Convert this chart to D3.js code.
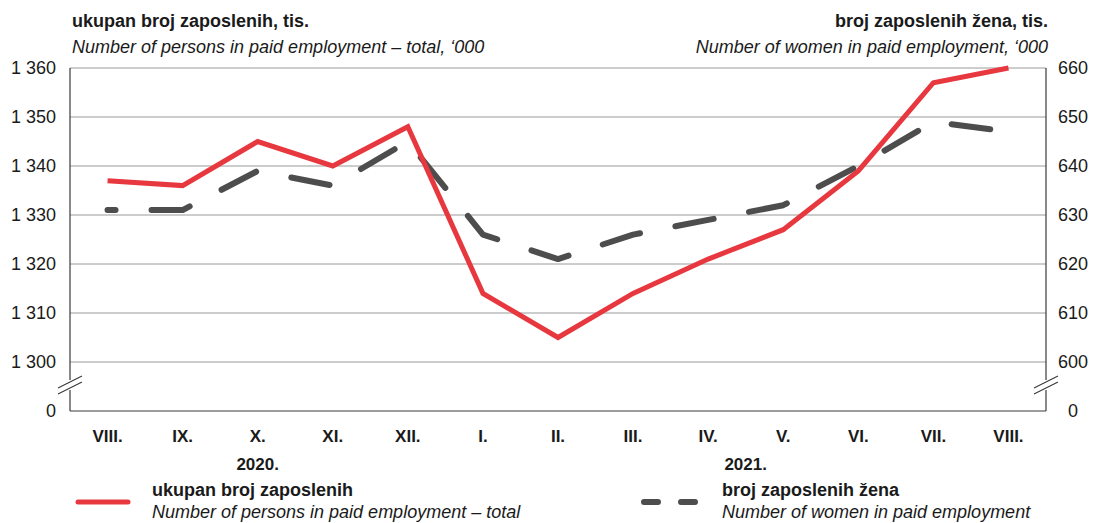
<!DOCTYPE html>
<html>
<head>
<meta charset="utf-8">
<script src="https://cdn.jsdelivr.net/npm/d3@7"></script>
<style>
  body { margin: 0; background: #fff; }
  text { font-family: "Liberation Sans", Arial, sans-serif; fill: #1a1a1a; }
</style>
</head>
<body>
<svg id="chart" width="1094" height="523"></svg>
<script>
// months on x axis
const months = ["VIII.", "IX.", "X.", "XI.", "XII.", "I.", "II.", "III.", "IV.", "V.", "VI.", "VII.", "VIII."];
// total persons in paid employment, '000 (left axis)
const totalEmp = [1337, 1336, 1345, 1340, 1348, 1314, 1305, 1314, 1321, 1327, 1339, 1357, 1360];
// women in paid employment, '000 (right axis)
const womenEmp = [631, 631, 639, 636, 645, 626, 621, 626, 629, 632, 640, 649, 647];
const leftTicks = [1300, 1310, 1320, 1330, 1340, 1350, 1360];
const rightTicks = [600, 610, 620, 630, 640, 650, 660];
const years = [{label: "2020.", at: 2}, {label: "2021.", at: 8.5}];

var svg = d3.select("#chart");
var mLeft = 70, mRight = 1046, mTop = 68, mBottom = 362, base = 411;

let x = d3.scalePoint().domain(d3.range(months.length)).range([mLeft, mRight]).padding(0.5);
let yL = d3.scaleLinear().domain([1300, 1360]).range([mBottom, mTop]);
let yR = d3.scaleLinear().domain([600, 660]).range([mBottom, mTop]);
let step = x.step();

// gridlines
svg.append("g").selectAll("line")
    .data(leftTicks)
    .enter()
    .append("line")
    .attr("x1", mLeft).attr("x2", mRight)
    .attr("y1", d => yL(d)).attr("y2", d => yL(d))
    .attr("stroke", "#9a9a9a").attr("stroke-width", 1);

// frame: left, right axis + baseline
var frame = svg.append("g").attr("stroke", "#3a3a3a").attr("stroke-width", 1.2).attr("fill", "none");
frame.append("line").attr("x1", mLeft).attr("x2", mLeft).attr("y1", mTop).attr("y2", 380);
frame.append("line").attr("x1", mLeft).attr("x2", mLeft).attr("y1", 390).attr("y2", base);
frame.append("line").attr("x1", mRight).attr("x2", mRight).attr("y1", mTop).attr("y2", 380);
frame.append("line").attr("x1", mRight).attr("x2", mRight).attr("y1", 390).attr("y2", base);
frame.append("line").attr("x1", mLeft).attr("x2", mRight).attr("y1", base).attr("y2", base);
// break marks
[mLeft, mRight].forEach(function(bx){
    [-3, 3].forEach(function(o){
        frame.append("line")
            .attr("x1", bx - 12).attr("y1", 391 + o)
            .attr("x2", bx + 12).attr("y2", 379 + o);
    });
});

// left axis labels
svg.append("g").selectAll("text")
    .data(leftTicks)
    .enter()
    .append("text")
    .attr("x", mLeft - 14).attr("y", d => yL(d) + 6)
    .attr("text-anchor", "end").attr("font-size", 18)
    .text(d => d3.format(",")(d).replace(",", " "));
svg.append("text").attr("x", mLeft - 14).attr("y", base + 6)
    .attr("text-anchor", "end").attr("font-size", 18).text("0");

// right axis labels
svg.append("g").selectAll("text")
    .data(rightTicks)
    .enter()
    .append("text")
    .attr("x", mRight + 12).attr("y", d => yR(d) + 6)
    .attr("font-size", 18)
    .text(d => d);
svg.append("text").attr("x", mRight + 22).attr("y", base + 6)
    .attr("font-size", 18).text("0");

// month labels
svg.append("g").selectAll("text")
    .data(months)
    .enter()
    .append("text")
    .attr("x", (d, i) => x(i)).attr("y", base + 31)
    .attr("text-anchor", "middle").attr("font-size", 17).attr("font-weight", "bold")
    .text(d => d);
svg.append("g").selectAll("text")
    .data(years)
    .enter()
    .append("text")
    .attr("x", d => x(0) + d.at * step).attr("y", base + 59)
    .attr("text-anchor", "middle").attr("font-size", 17).attr("font-weight", "bold")
    .text(d => d.label);

// titles
svg.append("text").attr("x", mLeft + 2).attr("y", 27).attr("font-size", 18).attr("font-weight", "bold")
    .text("ukupan broj zaposlenih, tis.");
svg.append("text").attr("x", mLeft + 2).attr("y", 53).attr("font-size", 18).attr("font-style", "italic")
    .text("Number of persons in paid employment – total, ‘000");
svg.append("text").attr("x", mRight + 2).attr("y", 27).attr("font-size", 18).attr("font-weight", "bold")
    .attr("text-anchor", "end").text("broj zaposlenih žena, tis.");
svg.append("text").attr("x", mRight + 2).attr("y", 53).attr("font-size", 18).attr("font-style", "italic")
    .attr("text-anchor", "end").text("Number of women in paid employment, ‘000");

// lines
var womenLine = d3.line().x((d, i) => x(i)).y(d => yR(d));
var totalLine = d3.line().x((d, i) => x(i)).y(d => yL(d));

svg.append("path").datum(womenEmp)
    .attr("d", womenLine)
    .attr("fill", "none").attr("stroke", "#4d4d4d").attr("stroke-width", 6)
    .attr("stroke-dasharray", "39,36").attr("stroke-dashoffset", 31)
    .attr("stroke-linecap", "round").attr("stroke-linejoin", "round");
svg.append("path").datum(totalEmp)
    .attr("d", totalLine)
    .attr("fill", "none").attr("stroke", "#e8383f").attr("stroke-width", 5)
    .attr("stroke-linejoin", "miter");

// legend
var lg = svg.append("g");
lg.append("line").attr("x1", 78).attr("x2", 128).attr("y1", 502).attr("y2", 502)
    .attr("stroke", "#e8383f").attr("stroke-width", 5).attr("stroke-linecap", "round");
lg.append("text").attr("x", 152).attr("y", 496).attr("font-size", 18).attr("font-weight", "bold").text("ukupan broj zaposlenih");
lg.append("text").attr("x", 152).attr("y", 518).attr("font-size", 18).attr("font-style", "italic").text("Number of persons in paid employment – total");
lg.append("line").attr("x1", 644).attr("x2", 698).attr("y1", 502).attr("y2", 502)
    .attr("stroke", "#4d4d4d").attr("stroke-width", 6).attr("stroke-linecap", "round")
    .attr("stroke-dasharray", "14,23");
lg.append("text").attr("x", 722).attr("y", 496).attr("font-size", 18).attr("font-weight", "bold").text("broj zaposlenih žena");
lg.append("text").attr("x", 722).attr("y", 518).attr("font-size", 18).attr("font-style", "italic").text("Number of women in paid employment");
</script>
</body>
</html>
